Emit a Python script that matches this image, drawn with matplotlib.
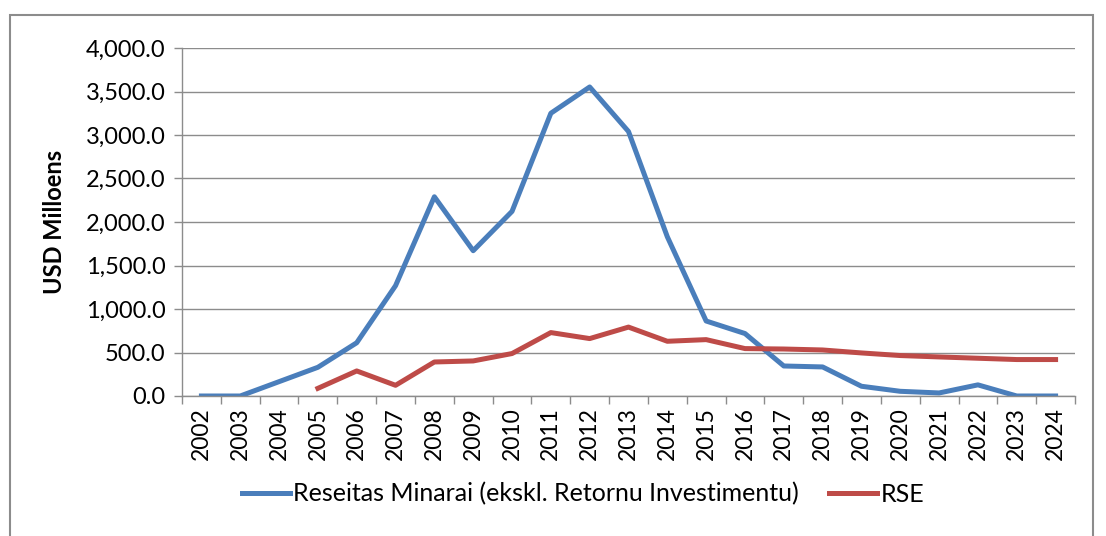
import numpy as np
import matplotlib
matplotlib.use('Agg')
import matplotlib.pyplot as plt
from matplotlib.patches import Rectangle
from matplotlib.ticker import FuncFormatter

years = [str(y) for y in range(2002, 2025)]
receitas = [0, 0, 165, 330, 612, 1268, 2290, 1670, 2122, 3250, 3552, 3040, 1830,
            862, 718, 345, 334, 112, 54, 35, 128, 0, 0]
rse = [np.nan, np.nan, np.nan, 88, 288, 123, 391, 403, 488, 729, 660, 792, 629,
       648, 545, 540, 529, 495, 465, 449, 434, 419, 419]

label_blue = 'Reseitas Minarai (ekskl. Retornu Investimentu)'
label_red = 'RSE'

plt.rcParams['font.family'] = ['Lato', 'DejaVu Sans']

fig = plt.figure(figsize=(11.06, 5.36), dpi=100)
ax = fig.add_axes([182/1106, 140/536, (1075-182)/1106, (396-48)/536])

# outer chart frame
fig.patches.append(Rectangle((10/1106, -0.05), (1093-10)/1106, 1.05 - 15/536,
                             transform=fig.transFigure, fill=False,
                             edgecolor='#8c8c8c', linewidth=1.5))

x = np.arange(len(years))
ax.plot(x, receitas, color='#4A7EBB', linewidth=3.6, label=label_blue)
ax.plot(x, rse, color='#BE4B48', linewidth=3.6, label=label_red)

ax.set_xlim(-0.5, len(years) - 0.5)
ax.set_ylim(0, 4000)
ax.set_yticks(np.arange(0, 4001, 500))
ax.yaxis.set_major_formatter(FuncFormatter(lambda v, p: '{:,.1f}'.format(v)))
ax.grid(axis='y', color='#8c8c8c', linewidth=1)
ax.set_axisbelow(True)

ax.set_xticks(x)
ax.set_xticklabels(years, rotation=90, fontsize=16.5)
ax.set_xticks(np.arange(-0.5, len(years), 1), minor=True)
ax.tick_params(axis='x', which='major', length=0, pad=8)
ax.tick_params(axis='x', which='minor', length=6, color='#8c8c8c', width=1)
ax.tick_params(axis='y', length=6, color='#8c8c8c', width=1, labelsize=17, pad=6)

for s in ['top', 'right']:
    ax.spines[s].set_visible(False)
for s in ['left', 'bottom']:
    ax.spines[s].set_color('#8c8c8c')
    ax.spines[s].set_linewidth(1)

fig.text(55/1106, (536-222)/536, 'USD Milloens', rotation=90, fontsize=17,
         fontweight='bold', ha='center', va='center')

fig.legend(loc='center', bbox_to_anchor=(583/1106, (536-494)/536), ncol=2,
           frameon=False, fontsize=18, handlelength=1.9, handletextpad=0.15,
           columnspacing=1.2)

fig.savefig('out.png', dpi=100)
